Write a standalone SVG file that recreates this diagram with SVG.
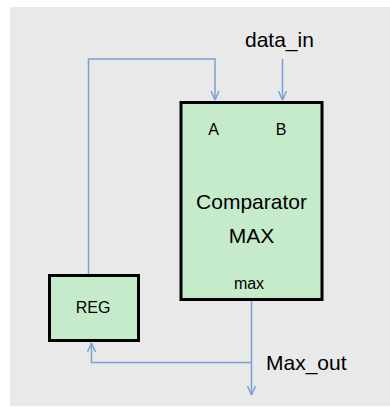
<svg xmlns="http://www.w3.org/2000/svg" width="390" height="407" viewBox="0 0 390 407">
<defs>
<style>
.box{fill:#c6ebcb;stroke:#000;stroke-width:3}
.wire{fill:none;stroke:#7ba0d4;stroke-width:1.5}
.t{font-family:"Liberation Sans",Arial,sans-serif;fill:#000}
</style>
<marker id="arr" viewBox="0 0 10 10" refX="10" refY="5" markerWidth="10" markerHeight="10" markerUnits="userSpaceOnUse" orient="auto">
<path d="M1,1 L10,5 L1,9" fill="none" stroke="#7ba0d4" stroke-width="1.5"/>
</marker>
</defs>
<rect x="10" y="7" width="380" height="399" fill="#e9e9e9"/>
<g id="connectors">
<path class="wire" d="M88.5,275 V59 H215 V100" marker-end="url(#arr)"/>
<path class="wire" d="M282.5,59 V100" marker-end="url(#arr)"/>
<path class="wire" d="M251.5,300 V395" marker-end="url(#arr)"/>
<path class="wire" d="M251.5,362.5 H91.5 V343" marker-end="url(#arr)"/>
</g>
<g id="comparator">
<rect class="box" x="181" y="102.5" width="141" height="197"/>
<text class="t" x="213.5" y="135" font-size="16" text-anchor="middle">A</text>
<text class="t" x="281" y="135" font-size="16" text-anchor="middle">B</text>
<text class="t" x="251.5" y="209" font-size="21" text-anchor="middle">Comparator</text>
<text class="t" x="251.5" y="243" font-size="21" text-anchor="middle">MAX</text>
<text class="t" x="249" y="289" font-size="16" text-anchor="middle">max</text>
</g>
<g id="reg">
<rect class="box" x="49.5" y="275.5" width="89" height="65"/>
<text class="t" x="93" y="313" font-size="16" text-anchor="middle">REG</text>
</g>
<g id="labels">
<text class="t" x="245" y="47" font-size="21">data_in</text>
<text class="t" x="266" y="370" font-size="21">Max_out</text>
</g>
</svg>
